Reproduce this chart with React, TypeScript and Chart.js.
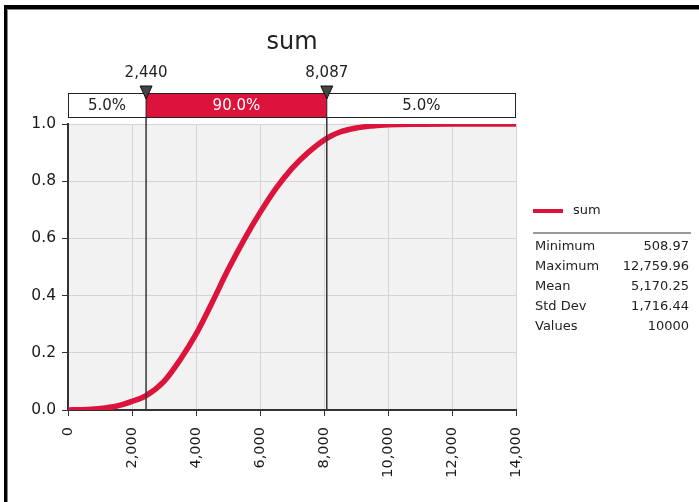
import React, { useEffect, useRef } from "react";
import { Chart, registerables } from "chart.js";

Chart.register(...registerables);

const seriesName = "sum";
const cdfX = [0, 600, 1000, 1500, 2000, 2440, 3000, 3500, 4000, 4500, 5000, 5500, 6000, 6500, 7000, 7500, 8087, 8500, 9000, 9500, 10000, 11000, 12000, 14000];
const cdfY = [0, 0.002, 0.005, 0.013, 0.03, 0.05, 0.1, 0.175, 0.265, 0.375, 0.49, 0.595, 0.69, 0.775, 0.845, 0.9, 0.95, 0.972, 0.986, 0.993, 0.997, 0.999, 1.0, 1.0];
const xMin = 0;
const xMax = 14000;
const xStep = 2000;
const yMin = 0;
const yMax = 1;
const yStep = 0.2;
const markerValues = [2440, 8087];
const markerLabels = ["2,440", "8,087"];
const bandLabels = ["5.0%", "90.0%", "5.0%"];
const statLabels = ["Minimum", "Maximum", "Mean", "Std Dev", "Values"];
const statValues = ["508.97", "12,759.96", "5,170.25", "1,716.44", "10000"];

const RED = "#dc143c";
const FONT = "'DejaVu Sans', sans-serif";

const overlayPlugin = {
  id: "overlay",
  beforeDraw(chart: any) {
    const { ctx, chartArea, width, height } = chart;
    ctx.save();
    ctx.fillStyle = "#ffffff";
    ctx.fillRect(0, 0, width, height);
    ctx.fillStyle = "#f2f2f2";
    ctx.fillRect(chartArea.left, chartArea.top, chartArea.right - chartArea.left, chartArea.bottom - chartArea.top);
    ctx.restore();
  },
  afterDatasetsDraw(chart: any) {
    const { ctx, chartArea } = chart;
    const xs = chart.scales.x;
    const bandTop = 93;
    const bandBottom = 117;
    const mx = markerValues.map((v) => xs.getPixelForValue(v));
    ctx.save();
    ctx.strokeStyle = "#333333";
    ctx.lineWidth = 1.5;
    mx.forEach((x) => {
      ctx.beginPath();
      ctx.moveTo(x, bandTop);
      ctx.lineTo(x, chartArea.bottom);
      ctx.stroke();
    });
    const edges = [chartArea.left, mx[0], mx[1], chartArea.right];
    for (let i = 0; i < 3; i++) {
      ctx.fillStyle = i === 1 ? RED : "#ffffff";
      ctx.fillRect(edges[i], bandTop, edges[i + 1] - edges[i], bandBottom - bandTop);
    }
    ctx.strokeStyle = "#222222";
    ctx.lineWidth = 1;
    ctx.strokeRect(chartArea.left + 0.5, bandTop + 0.5, chartArea.right - chartArea.left - 1, bandBottom - bandTop);
    mx.forEach((x) => {
      ctx.beginPath();
      ctx.moveTo(x, bandTop);
      ctx.lineTo(x, bandBottom);
      ctx.stroke();
    });
    ctx.font = `15px ${FONT}`;
    ctx.textAlign = "center";
    ctx.textBaseline = "middle";
    for (let i = 0; i < 3; i++) {
      ctx.fillStyle = i === 1 ? "#ffffff" : "#222222";
      ctx.fillText(bandLabels[i], (edges[i] + edges[i + 1]) / 2, (bandTop + bandBottom) / 2 + 1);
    }
    mx.forEach((x, i) => {
      ctx.fillStyle = "#444444";
      ctx.strokeStyle = "#111111";
      ctx.beginPath();
      ctx.moveTo(x - 6, 86);
      ctx.lineTo(x + 6, 86);
      ctx.lineTo(x, 99);
      ctx.closePath();
      ctx.fill();
      ctx.stroke();
      ctx.fillStyle = "#222222";
      ctx.font = `15px ${FONT}`;
      ctx.fillText(markerLabels[i], x, 73);
    });
    ctx.font = `24px ${FONT}`;
    ctx.fillStyle = "#222222";
    ctx.fillText(seriesName, (chartArea.left + chartArea.right) / 2, 43);
    ctx.strokeStyle = RED;
    ctx.lineWidth = 4;
    ctx.beginPath();
    ctx.moveTo(533, 211);
    ctx.lineTo(563, 211);
    ctx.stroke();
    ctx.font = `13px ${FONT}`;
    ctx.textAlign = "left";
    ctx.fillStyle = "#222222";
    ctx.fillText(seriesName, 573, 211);
    ctx.strokeStyle = "#999999";
    ctx.lineWidth = 2;
    ctx.beginPath();
    ctx.moveTo(533, 233);
    ctx.lineTo(691, 233);
    ctx.stroke();
    statLabels.forEach((lab, i) => {
      const y = 247 + i * 20;
      ctx.textAlign = "left";
      ctx.fillText(lab, 535, y);
      ctx.textAlign = "right";
      ctx.fillText(statValues[i], 689, y);
    });
    ctx.fillStyle = "#000000";
    ctx.fillRect(4, 5, 695, 4);
    ctx.fillRect(4, 5, 3, 497);
    ctx.fillStyle = "#888888";
    ctx.fillRect(7, 9, 692, 1);
    ctx.fillRect(7, 9, 1, 493);
    ctx.restore();
  },
};

export default function App() {
  const ref = useRef<HTMLCanvasElement | null>(null);
  useEffect(() => {
    if (!ref.current) return;
    const points = cdfX.map((x, i) => ({ x, y: cdfY[i] }));
    const chart = new Chart(ref.current, {
      type: "line",
      data: {
        datasets: [
          {
            label: seriesName,
            data: points,
            borderColor: RED,
            backgroundColor: RED,
            borderWidth: 5.5,
            pointRadius: 0,
            cubicInterpolationMode: "monotone",
            fill: false,
          },
        ],
      },
      options: {
        responsive: false,
        animation: false,
        devicePixelRatio: 1,
        layout: { padding: { left: 0, right: 183, top: 124, bottom: 0 } },
        plugins: { legend: { display: false }, tooltip: { enabled: false }, title: { display: false } },
        scales: {
          x: {
            type: "linear",
            min: xMin,
            max: xMax,
            afterFit: (s: any) => {
              s.height = 92;
            },
            ticks: {
              stepSize: xStep,
              minRotation: 90,
              maxRotation: 90,
              padding: 11,
              color: "#1a1a1a",
              font: { family: FONT, size: 14.5 },
              callback: (v: any) => Number(v).toLocaleString("en-US"),
            },
            grid: { color: "#d4d4d4", tickColor: "#333333", tickLength: 6, lineWidth: 1 },
            border: { color: "#333333", width: 2 },
          },
          y: {
            min: yMin,
            max: yMax,
            afterFit: (s: any) => {
              s.width = 68;
            },
            ticks: {
              stepSize: yStep,
              padding: 6,
              color: "#1a1a1a",
              font: { family: FONT, size: 15.5 },
              callback: (v: any) => Number(v).toFixed(1),
            },
            grid: { color: "#d4d4d4", tickColor: "#333333", tickLength: 6, lineWidth: 1 },
            border: { color: "#333333", width: 2 },
          },
        },
      },
      plugins: [overlayPlugin],
    });
    return () => chart.destroy();
  }, []);
  return (
    <div style={{ position: "absolute", left: 0, top: 0, width: 699, height: 502 }}>
      <canvas ref={ref} width={699} height={502} style={{ width: 699, height: 502 }} />
    </div>
  );
}
